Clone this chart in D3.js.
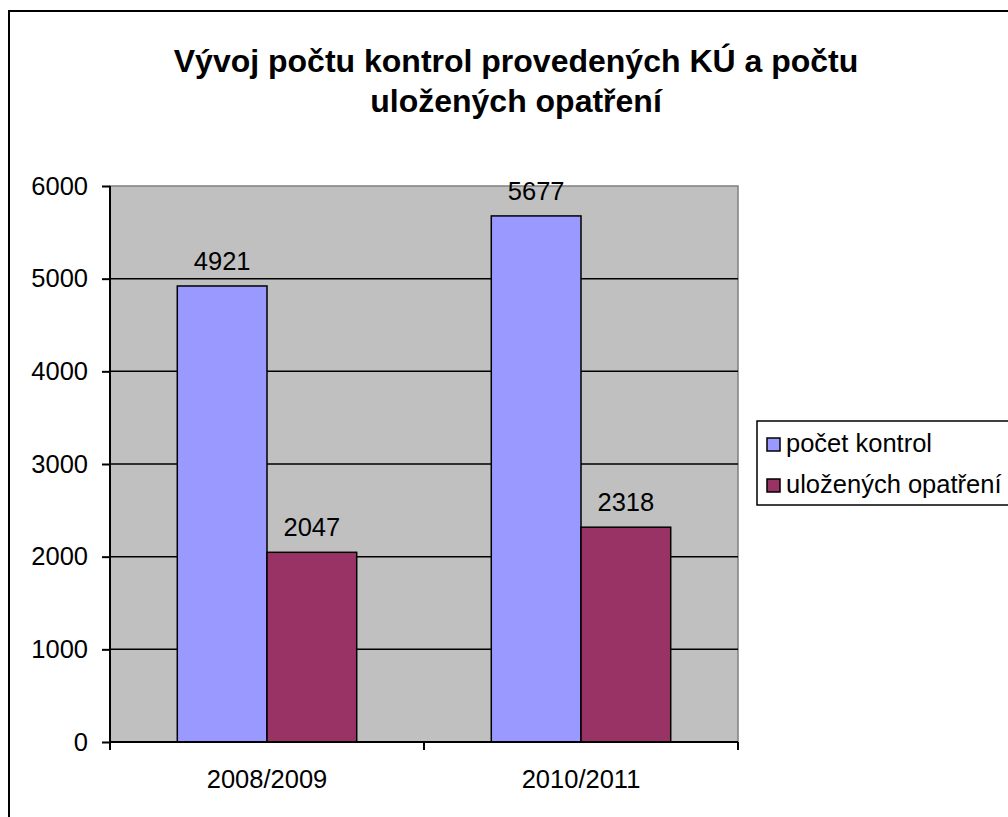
<!DOCTYPE html>
<html>
<head>
<meta charset="utf-8">
<script src="https://cdn.jsdelivr.net/npm/d3@7"></script>
<style>
  html, body { margin: 0; padding: 0; background: #fff; }
  svg { display: block; font-family: "Liberation Sans", Arial, sans-serif; }
</style>
</head>
<body>
<div id="chart"></div>
<script>
// Vývoj počtu kontrol — grouped bar chart (Excel style)

var categories = ["2008/2009", "2010/2011"];
var seriesNames = ["počet kontrol", "uložených opatření"];
var seriesColors = ["#9999FF", "#993366"];
var pocetKontrol = [4921, 5677];
var ulozenychOpatreni = [2047, 2318];
var yTicks = [0, 1000, 2000, 3000, 4000, 5000, 6000];
var titleLines = ["Vývoj počtu kontrol provedených KÚ a počtu", "uložených opatření"];

var series = [pocetKontrol, ulozenychOpatreni];

var totalW = 1008, totalH = 817;
var plot = { left: 110, top: 186, right: 738, bottom: 742 };
var width = plot.right - plot.left;
var height = plot.bottom - plot.top;
var labelSize = "25.5px";

var svg = d3.select("#chart").append("svg")
    .attr("width", totalW)
    .attr("height", totalH);

// --- Outer chart frame (runs off right/bottom edge) ---
svg.append("rect")
    .attr("x", 9).attr("y", 11)
    .attr("width", 1010).attr("height", 820)
    .attr("fill", "#fff")
    .attr("stroke", "#000")
    .attr("stroke-width", 2);

// --- Title ---
svg.append("text")
    .attr("text-anchor", "middle")
    .style("font-size", "32px")
    .style("font-weight", "bold")
    .selectAll("tspan")
    .data(titleLines)
    .enter().append("tspan")
        .attr("x", 516)
        .attr("y", function(d, i) { return 72 + i * 40; })
        .text(function(d) { return d; });

var g = svg.append("g")
    .attr("transform", "translate(" + plot.left + "," + plot.top + ")");

// --- Scales ---
var x0 = d3.scaleBand().domain(categories).range([0, width]).paddingInner(0).paddingOuter(0);
// gap width 150% -> two bars + 1.5 bar of gap per category
var barW = x0.bandwidth() / 3.5;
var x1 = d3.scaleBand().domain(d3.range(series.length))
    .range([barW * 0.75, barW * 0.75 + barW * 2]).padding(0);

var y = d3.scaleLinear().domain([0, 6000]).range([height, 0]);

// --- Plot background ---
g.append("rect")
    .attr("width", width).attr("height", height)
    .attr("fill", "#C0C0C0")
    .attr("stroke", "#808080")
    .attr("stroke-width", 1.5);

// --- Gridlines ---
g.append("g")
    .selectAll("line")
    .data(yTicks.filter(function(d) { return d > 0 && d < 6000; }))
    .enter().append("line")
        .attr("x1", 0).attr("x2", width)
        .attr("y1", function(d) { return y(d); })
        .attr("y2", function(d) { return y(d); })
        .attr("stroke", "#000")
        .attr("stroke-width", 1.5);

// --- Bars ---
var groups = g.selectAll(".cat")
    .data(categories)
    .enter().append("g")
        .attr("transform", function(d) { return "translate(" + x0(d) + ",0)"; });

groups.selectAll("rect")
    .data(function(d, ci) { return series.map(function(s, si) { return { si: si, v: s[ci] }; }); })
    .enter().append("rect")
        .attr("x", function(d) { return x1(d.si); })
        .attr("width", x1.bandwidth())
        .attr("y", function(d) { return y(d.v); })
        .attr("height", function(d) { return height - y(d.v); })
        .attr("fill", function(d) { return seriesColors[d.si]; })
        .attr("stroke", "#000")
        .attr("stroke-width", 1.5);

groups.selectAll(".val")
    .data(function(d, ci) { return series.map(function(s, si) { return { si: si, v: s[ci] }; }); })
    .enter().append("text")
        .attr("x", function(d) { return x1(d.si) + x1.bandwidth() / 2; })
        .attr("y", function(d) { return y(d.v) - 16; })
        .attr("text-anchor", "middle")
        .style("font-size", labelSize)
        .text(function(d) { return d.v; });

// --- Axes ---
var yAxis = g.append("g")
    .call(d3.axisLeft(y).tickValues(yTicks).tickSize(8).tickPadding(14).tickFormat(d3.format("d")));
yAxis.select(".domain").attr("stroke-width", 2).attr("d", "M0,0V" + height);
yAxis.selectAll(".tick line").attr("stroke-width", 2);
yAxis.selectAll("text").style("font-size", labelSize).style("font-family", "inherit");

var xAxis = g.append("g")
    .attr("transform", "translate(0," + height + ")");
xAxis.append("line")
    .attr("x1", 0).attr("x2", width)
    .attr("stroke", "#000").attr("stroke-width", 2);
xAxis.selectAll(".xtick")
    .data(categories.concat([null]))
    .enter().append("line")
        .attr("x1", function(d) { return d ? x0(d) : width; })
        .attr("x2", function(d) { return d ? x0(d) : width; })
        .attr("y1", 0).attr("y2", 8)
        .attr("stroke", "#000").attr("stroke-width", 2);
xAxis.selectAll(".xlab")
    .data(categories)
    .enter().append("text")
        .attr("x", function(d) { return x0(d) + x0.bandwidth() / 2; })
        .attr("y", 46)
        .attr("text-anchor", "middle")
        .style("font-size", labelSize)
        .text(function(d) { return d; });

// --- Legend ---
var legend = svg.append("g").attr("transform", "translate(757,421)");
legend.append("rect")
    .attr("width", 300).attr("height", 84)
    .attr("fill", "#fff").attr("stroke", "#000").attr("stroke-width", 1.5);
var items = legend.selectAll(".item")
    .data(seriesNames)
    .enter().append("g")
        .attr("transform", function(d, i) { return "translate(10," + (17 + i * 41) + ")"; });
items.append("rect")
    .attr("width", 13).attr("height", 13)
    .attr("fill", function(d, i) { return seriesColors[i]; })
    .attr("stroke", "#000").attr("stroke-width", 1.5);
items.append("text")
    .attr("x", 19).attr("y", 14)
    .style("font-size", labelSize)
    .text(function(d) { return d; });
</script>
</body>
</html>
